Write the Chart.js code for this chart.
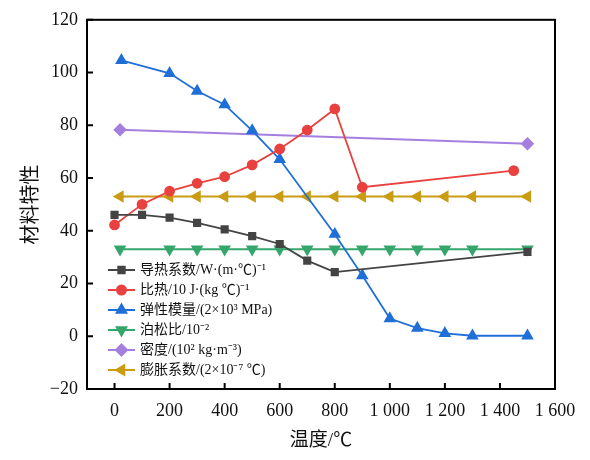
<!DOCTYPE html>
<html>
<head>
<meta charset="utf-8">
<script src="https://cdn.jsdelivr.net/npm/chart.js@4.4.1/dist/chart.umd.min.js"></script>
<style>
  html, body { margin: 0; padding: 0; background: #fff; }
  #wrap { width: 590px; height: 460px; }
</style>
</head>
<body>
<div id="wrap"><canvas id="materialChart"></canvas></div>
<script>
// Données (température en °C)
const xTicks = [0, 200, 400, 600, 800, 1000, 1200, 1400, 1600];
const yTicks = [-20, 0, 20, 40, 60, 80, 100, 120];

const seriesNames = [
  "导热系数/W·(m·℃)⁻¹",
  "比热/10 J·(kg ℃)⁻¹",
  "弹性模量/(2×10³ MPa)",
  "泊松比/10⁻²",
  "密度/(10² kg·m⁻³)",
  "膨胀系数/(2×10⁻⁷ ℃)"
];

const condT = [0, 100, 200, 300, 400, 500, 600, 700, 800, 1500];
const condV = [46, 46, 45, 43, 40.5, 38, 35, 28.7, 24.3, 32];

const heatT = [0, 100, 200, 300, 400, 500, 600, 700, 800, 900, 1450];
const heatV = [42.2, 50, 55, 58, 60.5, 65, 71, 78.2, 86.2, 56.5, 62.8];

const modT = [25, 200, 300, 400, 500, 600, 800, 900, 1000, 1100, 1200, 1300, 1500];
const modV = [104.6, 99.7, 93, 87.8, 78, 67.1, 38.7, 23, 6.7, 3.1, 1.1, 0.2, 0.2];

const poisT = [20, 200, 300, 400, 500, 600, 700, 800, 900, 1000, 1100, 1200, 1300, 1500];
const poisV = [33, 33, 33, 33, 33, 33, 33, 33, 33, 33, 33, 33, 33, 33];

const densT = [20, 1500];
const densV = [78.3, 73];

const expT = [20, 200, 300, 400, 500, 600, 700, 800, 900, 1000, 1100, 1200, 1300, 1500];
const expV = [53, 53, 53, 53, 53, 53, 53, 53, 53, 53, 53, 53, 53, 53];

const toPoints = (xs, ys) => xs.map((x, i) => ({ x: x, y: ys[i] }));

const serif = "'Liberation Serif', 'Noto Sans CJK SC', serif";

const makeSet = (label, xs, ys, color, style, radius, rotation) => ({
  label: label,
  data: toPoints(xs, ys),
  borderColor: color,
  backgroundColor: color,
  pointBackgroundColor: color,
  pointBorderColor: color,
  pointStyle: style,
  pointRadius: radius,
  pointRotation: rotation,
  borderWidth: 1.8,
  tension: 0
});

// Cadre + graduations intérieures
const framePlugin = {
  id: 'frame',
  afterDraw(chart) {
    const { ctx, chartArea: a, scales: { x, y } } = chart;
    ctx.save();
    ctx.strokeStyle = '#000';
    ctx.lineWidth = 2;
    ctx.strokeRect(a.left, a.top, a.right - a.left, a.bottom - a.top);
    ctx.beginPath();
    xTicks.forEach(v => {
      const px = x.getPixelForValue(v);
      ctx.moveTo(px, a.bottom);
      ctx.lineTo(px, a.bottom - 6);
    });
    yTicks.forEach(v => {
      const py = y.getPixelForValue(v);
      ctx.moveTo(a.left, py);
      ctx.lineTo(a.left + 6, py);
    });
    ctx.stroke();
    ctx.restore();
  }
};

// Légende dans la zone du graphique (en bas à gauche)
const legendPlugin = {
  id: 'innerLegend',
  afterDraw(chart) {
    const ctx = chart.ctx;
    const a = chart.chartArea;
    const x0 = a.left + 21;
    const y0 = 270;
    const gap = 20;
    ctx.save();
    ctx.font = "14px " + serif;
    ctx.textBaseline = 'middle';
    ctx.textAlign = 'left';
    chart.data.datasets.forEach((ds, i) => {
      const cy = y0 + i * gap;
      ctx.strokeStyle = ds.borderColor;
      ctx.fillStyle = ds.borderColor;
      ctx.lineWidth = 2;
      ctx.beginPath();
      ctx.moveTo(x0, cy);
      ctx.lineTo(x0 + 27, cy);
      ctx.stroke();
      Chart.helpers.drawPoint(ctx, {
        pointStyle: ds.pointStyle,
        radius: ds.pointRadius,
        rotation: ds.pointRotation,
        borderWidth: 1
      }, x0 + 13.5, cy);
      ctx.fillStyle = '#111';
      ctx.fillText(ds.label, x0 + 32, cy);
    });
    ctx.restore();
  }
};

const fmtTick = v => {
  if (v < 0) return '−' + Math.abs(v);
  if (v >= 1000) return Math.floor(v / 1000) + ' ' + String(v % 1000).padStart(3, '0');
  return String(v);
};

const ctx = document.getElementById('materialChart').getContext('2d');
const materialChart = new Chart(ctx, {
  type: 'line',
  data: {
    datasets: [
      makeSet(seriesNames[0], condT, condV, '#444444', 'rect', 4.5, 0),
      makeSet(seriesNames[1], heatT, heatV, '#e8413f', 'circle', 4.5, 0),
      makeSet(seriesNames[2], modT, modV, '#1f6fd8', 'triangle', 5.5, 0),
      makeSet(seriesNames[3], poisT, poisV, '#35a66c', 'triangle', 5.5, 180),
      makeSet(seriesNames[4], densT, densV, '#a47fdf', 'rectRot', 5.5, 0),
      makeSet(seriesNames[5], expT, expV, '#c99c12', 'triangle', 5.5, -90)
    ]
  },
  options: {
    responsive: true,
    maintainAspectRatio: false,
    animation: false,
    layout: { padding: { top: 15, right: 35, left: 0, bottom: 0 } },
    plugins: {
      legend: { display: false },
      tooltip: { enabled: false }
    },
    scales: {
      x: {
        type: 'linear',
        min: -100,
        max: 1600,
        afterBuildTicks: s => { s.ticks = xTicks.map(v => ({ value: v })); },
        afterFit: s => { s.height = 71; },
        grid: { display: false, drawTicks: false },
        border: { display: false },
        ticks: {
          padding: 11,
          color: '#111',
          font: { family: serif, size: 18 },
          maxRotation: 0,
          autoSkip: false,
          callback: v => fmtTick(v)
        },
        title: {
          display: true,
          text: '温度/℃',
          color: '#111',
          font: { family: serif, size: 19 },
          padding: { top: 0, bottom: 8 }
        }
      },
      y: {
        min: -20,
        max: 120,
        afterBuildTicks: s => { s.ticks = yTicks.map(v => ({ value: v })); },
        afterFit: s => { s.width = 87; },
        grid: { display: false, drawTicks: false },
        border: { display: false },
        ticks: {
          padding: 9,
          color: '#111',
          font: { family: serif, size: 18 },
          callback: v => fmtTick(v)
        },
        title: {
          display: true,
          text: '材料特性',
          color: '#111',
          font: { family: serif, size: 20 },
          padding: { top: 20, bottom: 0 }
        }
      }
    }
  },
  plugins: [framePlugin, legendPlugin]
});
</script>
</body>
</html>
